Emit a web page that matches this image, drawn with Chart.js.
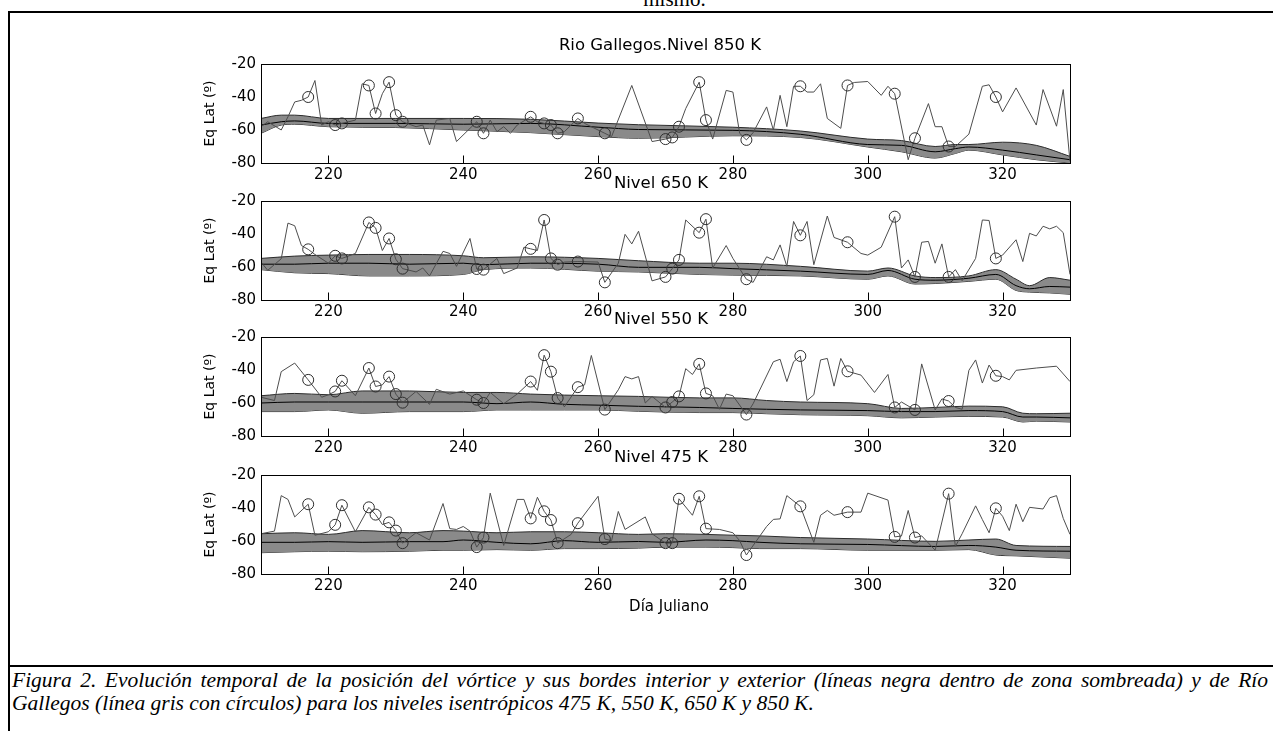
<!DOCTYPE html>
<html>
<head>
<meta charset="utf-8">
<script src="https://cdn.jsdelivr.net/npm/chart.js@4.4.1/dist/chart.umd.min.js"></script>
<style>
html,body{margin:0;padding:0;background:#fff;}
body{width:1273px;height:731px;overflow:hidden;position:relative;font-family:"DejaVu Sans",sans-serif;}
canvas.cv{position:absolute;left:0;}
.ttl{position:absolute;font-size:16.5px;color:#000;white-space:nowrap;transform:translate(-50%,-50%);line-height:1;}
.xl{position:absolute;font-size:15px;color:#000;white-space:nowrap;transform:translate(-50%,-50%);line-height:1;}
.hline{position:absolute;background:#000;}
.cap{position:absolute;left:12px;width:1256px;font-family:"Liberation Serif","Times New Roman",serif;font-style:italic;font-size:21.5px;line-height:23px;color:#000;white-space:nowrap;}
.cap.j{text-align:justify;text-align-last:justify;}
.top{position:absolute;left:0;width:1273px;text-align:center;font-family:"Liberation Serif","Times New Roman",serif;font-size:21px;top:-13px;padding-left:76px;box-sizing:border-box;}
</style>
</head>
<body>
<div class="top">mismo.</div>
<div class="hline" style="left:8px;top:11px;width:1265px;height:2px;"></div>
<div class="hline" style="left:8px;top:11px;width:2px;height:720px;"></div>
<div class="hline" style="left:8px;top:665px;width:1265px;height:2px;"></div>

<canvas class="cv" id="c850" width="1273" height="137" style="top:50px"></canvas>
<canvas class="cv" id="c650" width="1273" height="137" style="top:187px"></canvas>
<canvas class="cv" id="c550" width="1273" height="137" style="top:323px"></canvas>
<canvas class="cv" id="c475" width="1273" height="137" style="top:461px"></canvas>

<div class="ttl" style="left:660px;top:45px;">Rio Gallegos.Nivel 850 K</div>
<div class="ttl" style="left:661px;top:183px;">Nivel 650 K</div>
<div class="ttl" style="left:661px;top:319px;">Nivel 550 K</div>
<div class="ttl" style="left:661px;top:457px;">Nivel 475 K</div>
<div class="xl" style="left:669px;top:606px;">Día Juliano</div>

<div class="cap j" style="top:669px;white-space:normal;">Figura 2. Evolución temporal de la posición del vórtice y sus bordes interior y exterior (líneas negra dentro de zona sombreada) y de Río</div>
<div class="cap" style="top:692px;">Gallegos (línea gris con círculos) para los niveles isentrópicos 475 K, 550 K, 650 K y 850 K.</div>

<script>
// ---- axis ticks ----
const xTicks = [220, 240, 260, 280, 300, 320];
const yTicks = [-80, -60, -40, -20];

// ---- days with ozone soundings (circles) ----
const circleDays = [217,221,222,226,227,229,230,231,242,243,250,252,253,254,257,261,270,271,272,275,276,282,290,297,304,307,312,319];

// ---- 850 K: Rio Gallegos equivalent latitude ----
const rg850Days = [210,211,213,214,215,216,217,218,219,220,221,222,224,225,226,227,228,229,230,231,233,234,235,236,238,239,242,243,244,245,246,247,248,250,251,252,253,254,255,257,258,261,262,265,268,270,271,272,273,275,276,277,279,280,281,282,283,285,286,287,288,289,290,291,292,293,294,296,297,298,300,302,303,304,306,307,309,310,311,312,313,315,317,318,319,320,322,325,326,328,329,330];
const rg850Lat  = [-58,-55,-60,-52,-43,-42,-40,-30,-57,-55,-57,-56,-54,-32,-33,-50,-38,-31,-51,-55,-58,-57,-69,-54,-53,-67,-55,-62,-54,-61,-58,-62,-57,-52,-55,-56,-57,-62,-61,-53,-56,-62,-64,-33,-67,-65.5,-64.5,-58,-47,-31,-54,-65.5,-36,-37,-62,-66,-61.6,-46,-60,-39,-58,-33.5,-33.5,-37,-37,-32,-53,-59,-33,-31.2,-30.6,-39,-33.5,-38,-78,-65,-44,-58,-58,-70,-70,-62.5,-33.5,-32.6,-40,-49,-34.5,-57,-35.5,-57.7,-35.5,-79];
// vortex edges (outer / inner) and centre line, 850 K
const band850Days = [210,213,215,220,230,240,250,260,266,280,290,300,305,310,313,315,320,325,330];
const band850Top  = [-53,-51,-51,-53,-53,-53,-53.5,-55.8,-56.8,-58.3,-60.6,-65.5,-66.4,-70,-68.8,-68.8,-67.4,-69.3,-76];
const band850Mid  = [-57,-55,-54.5,-56,-56,-56.5,-56,-58.3,-59.7,-60.2,-62.6,-68.8,-69.3,-73.2,-71.3,-70.3,-72.2,-75.1,-78];
const band850Bot  = [-62,-57,-56.5,-58,-58.5,-60,-61.6,-64,-65,-63.5,-64.5,-70.3,-73.2,-77,-74.2,-72.2,-75.1,-78,-80];

// ---- 650 K ----
const rg650Days = [210,211,213,214,215,216,217,218,220,221,222,224,226,227,228,229,230,231,233,234,235,237,238,239,241,242,243,245,246,248,249,250,251,252,253,254,255,257,260,261,263,264,265,266,268,270,271,272,273,275,276,277,279,280,282,283,285,286,287,288,289,290,291,292,294,295,297,299,300,302,304,305,306,307,308,309,310,311,312,313,314,316,317,318,319,320,322,323,324,325,326,327,328,329,330];
const rg650Lat  = [-57,-62,-55,-33.4,-35,-47,-49.3,-52.4,-57.7,-53.2,-54.8,-51.8,-33,-36.3,-50,-42.7,-55.3,-61,-63,-60.6,-65.4,-50.5,-51.8,-59.6,-42.7,-61.2,-61.6,-54.8,-64,-60.6,-48,-49,-50,-31.5,-54.8,-58.6,-57,-56.7,-57,-69.3,-57.7,-40.2,-46,-38.3,-68.4,-66,-61,-55.7,-31.5,-39.2,-31,-60.6,-47,-54.8,-67.4,-69.3,-53.8,-55.7,-46.6,-59.6,-32.4,-40.8,-32.4,-58.6,-29.1,-42.1,-45,-51.8,-52.8,-48,-29.5,-60.6,-55.7,-66,-45,-44.5,-57.7,-46,-66,-61.6,-68.3,-54.8,-31.5,-31.8,-54.8,-52.8,-43.5,-56.7,-39.6,-41.2,-35.3,-36.9,-35.3,-39.2,-64.5];
const band650Days = [210,215,220,226,232,240,243,250,260,266,275,280,290,300,303,307,310,315,319,322,324,327,330];
const band650Top  = [-54.8,-53.4,-52.8,-52.4,-52.4,-53.2,-54.4,-53.8,-54.8,-56.2,-57.7,-57.7,-59.6,-62.5,-60.6,-65.4,-66.4,-65.4,-61.6,-67.4,-71.3,-66.4,-68];
const band650Mid  = [-58.3,-58.3,-57.7,-57.7,-58.3,-57.7,-58.6,-57.7,-58.3,-60.2,-60.2,-61,-62.5,-64.5,-62.1,-67.4,-68,-66.8,-64.5,-71.3,-73.2,-71.8,-72.2];
const band650Bot  = [-61.6,-63.5,-64,-65.4,-65.4,-64.5,-61.6,-60.6,-62.5,-63,-64.5,-64.9,-65.4,-67.4,-65.4,-70.3,-70,-68.7,-67.4,-74.2,-75.2,-75.7,-76.5];

// ---- 550 K ----
const rg550Days = [210,212,213,215,217,219,220,221,222,224,226,227,228,229,230,231,233,235,236,238,240,242,243,244,246,248,250,251,252,253,254,255,257,258,259,261,263,264,265,266,267,268,270,271,272,273,274,275,276,277,278,279,280,282,283,286,287,288,289,290,291,292,293,294,295,296,297,299,301,303,304,305,307,308,310,311,312,313,314,315,316,317,318,319,320,321,322,325,328,330];
const rg550Lat  = [-56.5,-58.5,-41,-35.8,-46,-56.5,-55,-53,-46.5,-55.6,-38.8,-50,-49,-44,-54.6,-59.8,-53,-60.8,-51.7,-54.6,-52.7,-58,-60,-53.6,-60.4,-54.6,-47,-52.3,-31,-41,-57,-62.3,-50.4,-49,-31.2,-64,-52,-44,-45.4,-44,-60,-56,-62.7,-59.4,-56,-39.2,-42.7,-36.3,-54.2,-55.6,-63.8,-54.6,-55.6,-67,-60.4,-35,-33.5,-47,-35,-31.5,-58.5,-55,-33.9,-33,-49.8,-33,-40.8,-43.1,-53.6,-42.7,-62.7,-59.4,-64.2,-36.3,-64.2,-57.5,-58.8,-62.7,-63.8,-40.2,-33.9,-47.9,-37,-43.5,-44,-46,-40.2,-38.8,-37.7,-47];
const band550Days = [210,215,220,225,232,240,245,250,255,260,266,275,280,285,290,300,305,310,315,320,323,325,330];
const band550Top  = [-55.6,-54.2,-55,-52.7,-52.7,-53.6,-53.6,-54.6,-55.2,-55.6,-56,-56.9,-56.9,-58.5,-59.4,-60.4,-63.3,-62.7,-61.9,-62.3,-66.2,-66.5,-66.2];
const band550Mid  = [-60,-59.4,-59.4,-59.4,-59.4,-59.4,-60.4,-59.4,-60.8,-61.3,-62,-62.7,-63.3,-63.8,-64.2,-64.6,-65.2,-65.2,-64.6,-65.2,-68.5,-68.5,-69];
const band550Bot  = [-65.2,-65.2,-64.2,-66.2,-65.2,-65.2,-64.2,-64.2,-64.2,-64.2,-65,-65.8,-65.8,-66.5,-67.1,-67.7,-69,-68.5,-68.1,-68.5,-71.5,-71,-71.5];

// ---- 475 K ----
const rg475Days = [210,212,213,214,215,217,218,220,221,222,224,226,227,228,229,230,231,233,235,237,238,239,240,241,242,243,244,246,248,249,250,251,252,253,254,256,257,260,261,262,263,264,267,268,270,271,272,274,275,276,278,280,281,282,285,286,287,288,290,292,293,294,295,297,299,300,303,304,305,306,307,308,310,312,313,314,316,317,318,319,320,321,322,323,324,326,327,328,329,330];
const rg475Lat  = [-55.6,-54,-32.5,-34.8,-45.4,-37.7,-56.5,-54.4,-50.2,-38.3,-54.4,-39.6,-44,-50,-48.7,-53.7,-61.3,-55,-59.4,-37.3,-52.5,-53,-51.2,-54,-63.7,-57.9,-31,-62.7,-34.8,-34.8,-46.3,-33.5,-42,-47.3,-61.3,-56,-49.2,-32.9,-58.8,-59.8,-42.1,-53,-45.4,-55.6,-61.3,-61.3,-34.4,-44.4,-32.9,-52.5,-53,-55,-59.8,-68.5,-51.2,-46.9,-46.6,-32.5,-39,-60.8,-44.4,-41.5,-44.4,-42.5,-42.5,-31,-35.2,-57.5,-57,-41.5,-57.9,-56.9,-65.6,-31.3,-63.3,-55.6,-38.7,-47,-55,-40.2,-45,-53.7,-37.7,-48.3,-39.6,-40.6,-33.8,-32.5,-46.3,-56];
const band475Days = [210,215,220,225,232,237,240,245,250,255,260,266,270,276,280,284,290,300,310,315,319,322,330];
const band475Top  = [-55.6,-55,-56,-53.7,-55,-53.7,-54,-55,-54.4,-54.4,-55,-56,-55.6,-56,-56.5,-56.9,-57.9,-58.8,-60.2,-59.4,-58.8,-62.7,-63.3];
const band475Mid  = [-60.8,-60.8,-60.4,-60.8,-60.4,-60.4,-59.4,-60.8,-61.7,-59.8,-60.8,-60.3,-60.8,-59.4,-59.8,-60.8,-61.7,-62.1,-63.3,-62.7,-63.7,-65.6,-66.2];
const band475Bot  = [-67.1,-66.5,-66.2,-66.5,-66.2,-65.6,-65.6,-65.2,-65.6,-64.6,-64.6,-64.3,-63.7,-63.7,-64,-64.6,-64.6,-65.6,-65.6,-65.2,-68.5,-69,-70.4];

// ---------------------------------------------------------------
const FONT = "DejaVu Sans";
const PAD_LEFT = 198, PLOT_LEFT = 261, PLOT_RIGHT = 1070, CANVAS_W = 1273;

const frameTicks = {
  id: 'frameTicks',
  afterDatasetsDraw(chart) {
    const {ctx, chartArea: a, scales: {x}} = chart;
    ctx.save();
    ctx.strokeStyle = '#000';
    ctx.lineWidth = 1;
    const l = Math.round(a.left) + 0.5, t = Math.round(a.top) + 0.5;
    const r = Math.round(a.right) + 0.5, b = Math.round(a.bottom) + 0.5;
    ctx.strokeRect(l, t, r - l, b - t);
    ctx.beginPath();
    xTicks.forEach(v => {
      const px = Math.round(x.getPixelForValue(v)) + 0.5;
      ctx.moveTo(px, b);
      ctx.lineTo(px, b - 8);
    });
    ctx.stroke();
    ctx.restore();
  }
};

function pts(xs, ys) { return xs.map((d, i) => ({x: d, y: ys[i]})); }

function makePanel(id, rgDays, rgLat, bDays, bTop, bMid, bBot) {
  const circ = circleDays
    .map(d => { const i = rgDays.indexOf(d); return i >= 0 ? {x: d, y: rgLat[i]} : null; })
    .filter(Boolean);
  new Chart(document.getElementById(id), {
    type: 'line',
    data: {
      datasets: [
        {data: pts(bDays, bTop), borderColor: '#2b2b2b', borderWidth: 1, backgroundColor: '#8a8a8a',
         fill: '+1', pointRadius: 0, cubicInterpolationMode: 'monotone', order: 4},
        {data: pts(bDays, bBot), borderColor: '#2b2b2b', borderWidth: 1, backgroundColor: '#8a8a8a',
         fill: false, pointRadius: 0, cubicInterpolationMode: 'monotone', order: 4},
        {data: pts(bDays, bMid), borderColor: '#000', borderWidth: 1,
         fill: false, pointRadius: 0, cubicInterpolationMode: 'monotone', order: 3},
        {data: pts(rgDays, rgLat), borderColor: '#4d4d4d', borderWidth: 1,
         fill: false, pointRadius: 0, tension: 0, order: 2},
        {data: circ, showLine: false, pointRadius: 5.5, pointStyle: 'circle',
         pointBorderColor: '#2e2e2e', pointBackgroundColor: 'rgba(0,0,0,0)', pointBorderWidth: 1, order: 1}
      ]
    },
    options: {
      responsive: false,
      devicePixelRatio: 1,
      animation: false,
      events: [],
      layout: {padding: {left: PAD_LEFT, right: CANVAS_W - PLOT_RIGHT, top: 10, bottom: 0}},
      plugins: {legend: {display: false}, tooltip: {enabled: false}},
      scales: {
        x: {
          type: 'linear', min: 210, max: 330,
          afterBuildTicks: s => { s.ticks = xTicks.map(v => ({value: v})); },
          afterFit: s => { s.height = 24; },
          grid: {display: false, drawTicks: false},
          border: {display: false},
          ticks: {padding: 3, color: '#000', font: {family: FONT, size: 15}, maxRotation: 0, autoSkip: false}
        },
        y: {
          type: 'linear', min: -80, max: -20,
          afterBuildTicks: s => { s.ticks = yTicks.map(v => ({value: v})); },
          afterFit: s => { s.width = PLOT_LEFT - PAD_LEFT; },
          grid: {display: false, drawTicks: false},
          border: {display: false},
          ticks: {padding: 5, color: '#000', font: {family: FONT, size: 15}, autoSkip: false},
          title: {display: true, text: 'Eq Lat (º)', color: '#000', font: {family: FONT, size: 14}, padding: {top: 4, bottom: 0}}
        }
      }
    },
    plugins: [frameTicks]
  });
}

makePanel('c850', rg850Days, rg850Lat, band850Days, band850Top, band850Mid, band850Bot);
makePanel('c650', rg650Days, rg650Lat, band650Days, band650Top, band650Mid, band650Bot);
makePanel('c550', rg550Days, rg550Lat, band550Days, band550Top, band550Mid, band550Bot);
makePanel('c475', rg475Days, rg475Lat, band475Days, band475Top, band475Mid, band475Bot);
</script>
</body>
</html>
